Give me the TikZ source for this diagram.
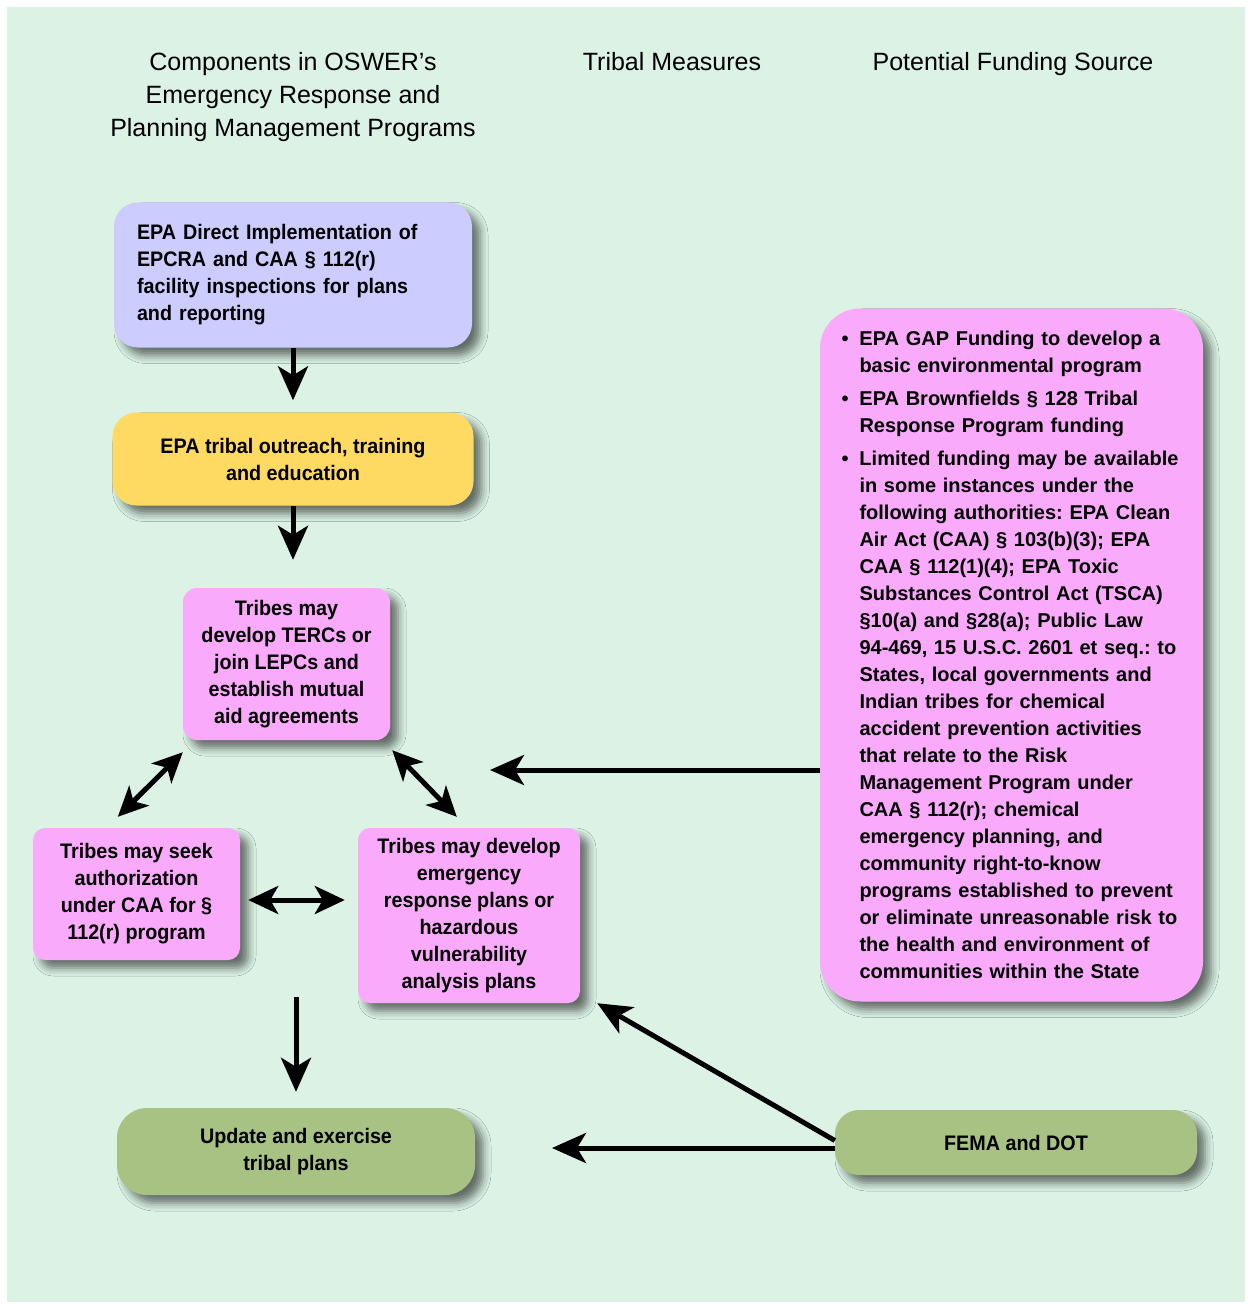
\documentclass[tikz,border=0pt]{standalone}
\usepackage{fontspec}
\setmainfont{Liberation Sans}
\newfontfamily\boxfont{Liberation Sans}[FakeStretch=0.94]
\usetikzlibrary{arrows.meta,shadows.blur,calc}
\frenchspacing

\definecolor{mint}{HTML}{DBF2E5}
\definecolor{lavender}{HTML}{CCCCFF}
\definecolor{gold}{HTML}{FFDA62}
\definecolor{orchid}{HTML}{FAAAFA}
\definecolor{sage}{HTML}{A8C283}

\newcommand\listbul{\makebox[18pt][l]{\textbullet}}
\newcommand\listind{\hspace*{18pt}}

\begin{document}
\begin{tikzpicture} [x=1pt,y=-1pt,
	box/.style={fill=#1,rounded corners=24pt,inner sep=0pt,align=center,
		font=\boxfont\bfseries\fontsize{21}{27}\selectfont,
		blur shadow={shadow xshift=8pt,shadow yshift=-8pt,shadow blur radius=8pt,shadow opacity=55}},
	arr/.style={line width=5pt,-{Stealth[length=34pt,width=30pt,inset=9pt]}},
	darr/.style={line width=5pt,{Stealth[length=30pt,width=28pt,inset=8pt]}-{Stealth[length=30pt,width=28pt,inset=8pt]}}]
			\useasboundingbox (0,0) rectangle (1250,1305);
			\fill[white] (0,0) rectangle (1250,1305);
			\fill[mint] (7,7) rectangle (1245,1302);
			
			\node[font=\fontsize{25}{33}\selectfont,align=center] (head1) at (293,97) {Components in OSWER’s\\Emergency Response and\\Planning Management Programs};
			\node[font=\fontsize{25}{33}\selectfont] (head2) at (672,62) {Tribal Measures};
			\node[font=\fontsize{25}{33}\selectfont] (head3) at (1013,64) {Potential Funding Source};
			
			\node[box=lavender,minimum width=358pt,minimum height=145pt,text width=312pt,align=left] (epa) at (293,275) {EPA Direct Implementation of\\EPCRA and CAA § 112(r)\\facility inspections for plans\\and reporting};
			\node[box=gold,minimum width=361pt,minimum height=93pt] (outreach) at (293,459) {EPA tribal outreach, training\\and education};
			\node[box=orchid,rounded corners=14pt,minimum width=207pt,minimum height=152pt] (terc) at (286.5,664) {Tribes may\\develop TERCs or\\join LEPCs and\\establish mutual\\aid agreements};
			\node[box=orchid,rounded corners=12pt,minimum width=207pt,minimum height=132pt] (seek) at (136.5,894) {Tribes may seek\\authorization\\under CAA for §\\112(r) program};
			\node[box=orchid,rounded corners=12pt,minimum width=222pt,minimum height=175pt] (plans) at (469,915.5) {Tribes may develop\\emergency\\response plans or\\hazardous\\vulnerability\\analysis plans};
			\node[box=sage,rounded corners=30pt,minimum width=358pt,minimum height=87pt] (update) at (296,1151.5) {Update and exercise\\tribal plans};
			\node[box=orchid,rounded corners=40pt,minimum width=383pt,minimum height=693pt,text width=340pt,align=left,
				font=\bfseries\fontsize{20}{27}\selectfont] (funds) at (1011.5,655) {\listbul EPA GAP Funding to develop a\\
				\listind basic environmental program\\[6pt]
				\listbul EPA Brownfields § 128 Tribal\\
				\listind Response Program funding\\[6pt]
				\listbul Limited funding may be available\\
				\listind in some instances under the\\
				\listind following authorities: EPA Clean\\
				\listind Air Act (CAA) § 103(b)(3); EPA\\
				\listind CAA § 112(1)(4); EPA Toxic\\
				\listind Substances Control Act (TSCA)\\
				\listind §10(a) and §28(a); Public Law\\
				\listind 94-469, 15 U.S.C. 2601 et seq.: to\\
				\listind States, local governments and\\
				\listind Indian tribes for chemical\\
				\listind accident prevention activities\\
				\listind that relate to the Risk\\
				\listind Management Program under\\
				\listind CAA § 112(r); chemical\\
				\listind emergency planning, and\\
				\listind community right-to-know\\
				\listind programs established to prevent\\
				\listind or eliminate unreasonable risk to\\
				\listind the health and environment of\\
				\listind communities within the State};
			\node[box=sage,minimum width=362pt,minimum height=65pt] (fema) at (1016,1142.5) {FEMA and DOT};
			
			\coordinate (gapA) at (490,770);
			\coordinate (gapB) at (552,1148);
			
			\draw[arr,shorten >=12pt] (epa.south) -- (epa.south |- outreach.north);
			\draw[arr,shorten >=28pt] (outreach.south) -- (outreach.south |- terc.north);
			\draw[darr] ([shift={(0,12)}]terc.south west) -- ([shift={(85,-11)}]seek.north west);
			\draw[darr] ([shift={(2,10)}]terc.south east) -- ([shift={(99,-11)}]plans.north west);
			\draw[darr] ([shift={(8,6)}]seek.east) -- ([shift={(-13,-15.5)}]plans.west);
			\draw[arr] ([yshift=111pt]update.north) -- ([yshift=16pt]update.north);
			\draw[arr] (gapA -| funds.west) -- (gapA);
			\draw[arr] (gapB -| fema.west) -- (gapB);
			\draw[arr] ([yshift=2pt]fema.west) -- ([shift={(17,0)}]plans.south east);
\end{tikzpicture}
\end{document}
